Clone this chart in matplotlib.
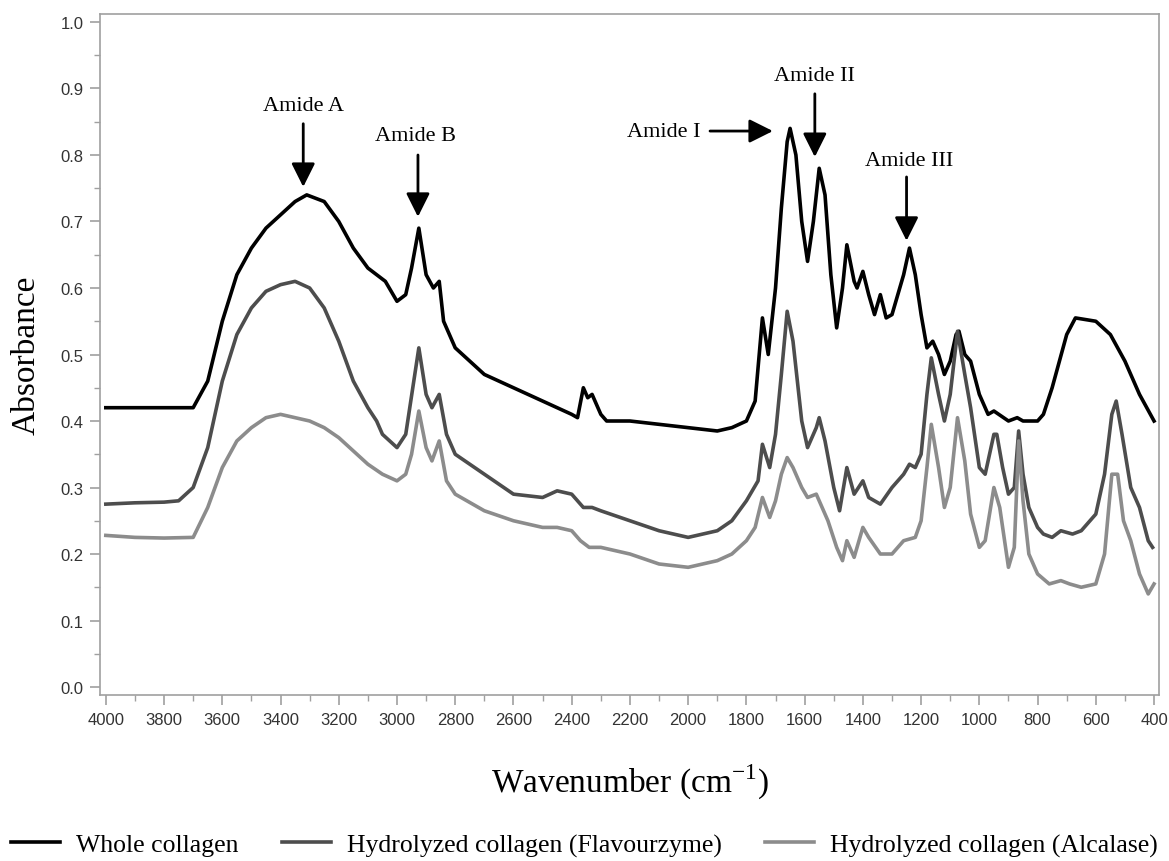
import matplotlib
matplotlib.use("Agg")
import matplotlib.pyplot as plt

# wavenumber (cm-1) and absorbance
wn_whole = [4000, 3900, 3800, 3700, 3650, 3600, 3550, 3500, 3450, 3400, 3350, 3310,
            3250, 3200, 3150, 3100, 3070, 3040, 3000, 2970, 2950, 2925, 2900, 2875,
            2855, 2840, 2800, 2750, 2700, 2600, 2500, 2400, 2380, 2360, 2345, 2330,
            2300, 2280, 2200, 2100, 2000, 1900, 1850, 1800, 1770, 1745, 1725, 1700,
            1680, 1660, 1650, 1630, 1610, 1590, 1570, 1550, 1530, 1510, 1490, 1470,
            1455, 1430, 1420, 1400, 1380, 1360, 1340, 1320, 1300, 1280, 1260, 1240,
            1220, 1200, 1180, 1160, 1140, 1120, 1100, 1080, 1070, 1050, 1030, 1000,
            970, 950, 900, 870, 850, 800, 780, 750, 700, 670, 600, 550, 500, 450, 400]
ab_whole = [0.42, 0.42, 0.42, 0.42, 0.46, 0.55, 0.62, 0.66, 0.69, 0.71, 0.73, 0.74,
            0.73, 0.70, 0.66, 0.63, 0.62, 0.61, 0.58, 0.59, 0.63, 0.69, 0.62, 0.60,
            0.61, 0.55, 0.51, 0.49, 0.47, 0.45, 0.43, 0.41, 0.405, 0.45, 0.435, 0.44,
            0.41, 0.40, 0.40, 0.395, 0.39, 0.385, 0.39, 0.40, 0.43, 0.555, 0.50, 0.60,
            0.72, 0.82, 0.84, 0.80, 0.70, 0.64, 0.70, 0.78, 0.74, 0.62, 0.54, 0.60,
            0.665, 0.61, 0.60, 0.625, 0.59, 0.56, 0.59, 0.555, 0.56, 0.59, 0.62, 0.66,
            0.62, 0.56, 0.51, 0.52, 0.50, 0.47, 0.49, 0.53, 0.535, 0.50, 0.49, 0.44,
            0.41, 0.415, 0.40, 0.405, 0.40, 0.40, 0.41, 0.45, 0.53, 0.555, 0.55, 0.53,
            0.49, 0.44, 0.40]

wn_flav = [4000, 3900, 3800, 3750, 3700, 3650, 3600, 3550, 3500, 3450, 3400, 3350,
           3300, 3250, 3200, 3150, 3100, 3070, 3050, 3000, 2970, 2925, 2900, 2880,
           2855, 2830, 2800, 2700, 2600, 2500, 2450, 2400, 2360, 2330, 2300, 2200,
           2100, 2000, 1900, 1850, 1800, 1760, 1745, 1720, 1700, 1680, 1660, 1640,
           1610, 1590, 1560, 1550, 1530, 1500, 1480, 1455, 1430, 1400, 1380, 1340,
           1300, 1260, 1240, 1220, 1200, 1180, 1165, 1140, 1120, 1100, 1075, 1050,
           1030, 1000, 980, 950, 940, 920, 900, 880, 865, 850, 830, 800, 780, 750,
           720, 680, 650, 600, 570, 545, 530, 510, 480, 450, 420, 405]
ab_flav = [0.275, 0.277, 0.278, 0.28, 0.30, 0.36, 0.46, 0.53, 0.57, 0.595, 0.605, 0.61,
           0.60, 0.57, 0.52, 0.46, 0.42, 0.40, 0.38, 0.36, 0.38, 0.51, 0.44, 0.42,
           0.44, 0.38, 0.35, 0.32, 0.29, 0.285, 0.295, 0.29, 0.27, 0.27, 0.265, 0.25,
           0.235, 0.225, 0.235, 0.25, 0.28, 0.31, 0.365, 0.33, 0.38, 0.47, 0.565, 0.52,
           0.40, 0.36, 0.39, 0.405, 0.37, 0.30, 0.265, 0.33, 0.29, 0.31, 0.285, 0.275,
           0.30, 0.32, 0.335, 0.33, 0.35, 0.44, 0.495, 0.44, 0.40, 0.44, 0.535, 0.47,
           0.42, 0.33, 0.32, 0.38, 0.38, 0.33, 0.29, 0.30, 0.385, 0.32, 0.27, 0.24,
           0.23, 0.225, 0.235, 0.23, 0.235, 0.26, 0.32, 0.41, 0.43, 0.38, 0.30, 0.27,
           0.22, 0.21]

wn_alc = [4000, 3900, 3800, 3700, 3650, 3600, 3550, 3500, 3450, 3400, 3350, 3300,
          3250, 3200, 3150, 3100, 3050, 3000, 2970, 2950, 2925, 2900, 2880, 2855,
          2830, 2800, 2700, 2600, 2500, 2450, 2400, 2370, 2340, 2300, 2200, 2100,
          2000, 1900, 1850, 1800, 1770, 1745, 1720, 1700, 1680, 1660, 1640, 1610,
          1590, 1560, 1550, 1520, 1490, 1470, 1455, 1430, 1400, 1380, 1340, 1300,
          1260, 1220, 1200, 1180, 1165, 1140, 1120, 1100, 1075, 1050, 1030, 1000,
          980, 950, 930, 900, 880, 865, 850, 830, 800, 760, 720, 690, 650, 600,
          570, 545, 525, 505, 480, 450, 420, 400]
ab_alc = [0.228, 0.225, 0.224, 0.225, 0.27, 0.33, 0.37, 0.39, 0.405, 0.41, 0.405, 0.40,
          0.39, 0.375, 0.355, 0.335, 0.32, 0.31, 0.32, 0.35, 0.415, 0.36, 0.34, 0.37,
          0.31, 0.29, 0.265, 0.25, 0.24, 0.24, 0.235, 0.22, 0.21, 0.21, 0.20, 0.185,
          0.18, 0.19, 0.20, 0.22, 0.24, 0.285, 0.255, 0.28, 0.32, 0.345, 0.33, 0.30,
          0.285, 0.29, 0.28, 0.25, 0.21, 0.19, 0.22, 0.195, 0.24, 0.225, 0.20, 0.20,
          0.22, 0.225, 0.25, 0.33, 0.395, 0.33, 0.27, 0.30, 0.405, 0.34, 0.26, 0.21,
          0.22, 0.30, 0.27, 0.18, 0.21, 0.37, 0.28, 0.20, 0.17, 0.155, 0.16, 0.155,
          0.15, 0.155, 0.20, 0.32, 0.32, 0.25, 0.22, 0.17, 0.14, 0.155]

series_names = ["Whole collagen", "Hydrolyzed collagen (Flavourzyme)",
                "Hydrolyzed collagen (Alcalase)"]
series_colors = ["#000000", "#4d4d4d", "#8c8c8c"]

# label, text position, arrow start, arrow tip
annotations = [
    ("Amide A", (3320, 0.874), (3322, 0.847), (3322, 0.752)),
    ("Amide B", (2935, 0.830), (2928, 0.800), (2928, 0.707)),
    ("Amide I", (2085, 0.836), (1925, 0.836), (1709, 0.836)),
    ("Amide II", (1565, 0.919), (1565, 0.892), (1565, 0.797)),
    ("Amide III", (1240, 0.791), (1250, 0.767), (1250, 0.671)),
]

serif = ["Liberation Serif", "DejaVu Serif"]
sans = ["Liberation Sans", "DejaVu Sans"]

fig = plt.figure(figsize=(11.69, 8.62), dpi=100)
ax = fig.add_axes([100 / 1169, 1 - 696 / 862, 1059 / 1169, 681 / 862])

for wn, ab, name, col in zip([wn_whole, wn_flav, wn_alc], [ab_whole, ab_flav, ab_alc],
                             series_names, series_colors):
    ax.plot(wn, ab, color=col, lw=2.6, label=name, solid_joinstyle="round")

for label, txt, start, tip in annotations:
    ax.annotate("", xy=tip, xytext=start,
                arrowprops=dict(arrowstyle="-|>,head_length=0.9,head_width=0.45",
                                lw=2, color="black", mutation_scale=16,
                                shrinkA=0, shrinkB=0))
    ax.text(txt[0], txt[1], label, ha="center", va="center",
            family=serif, fontsize=16)

ax.set_xlim(4020, 383)
ax.set_ylim(-0.012, 1.012)
ax.set_xticks(range(4000, 399, -200))
ax.set_xticks(range(3900, 399, -200), minor=True)
ax.set_yticks([i / 10 for i in range(11)])
ax.set_yticks([i / 10 + 0.05 for i in range(10)], minor=True)
ax.set_yticklabels([f"{i / 10:.1f}" for i in range(11)])

for s in ax.spines.values():
    s.set_color("#a0a0a0")
    s.set_linewidth(1.2)
ax.tick_params(which="major", length=7, width=1.2, color="#a0a0a0",
               labelsize=12, labelcolor="#333333", pad=5)
ax.tick_params(which="minor", length=4, width=1.0, color="#a0a0a0")
for lab in ax.get_xticklabels() + ax.get_yticklabels():
    lab.set_family(sans)

ax.set_xlabel("Wavenumber (cm$^{\\mathregular{-1}}$)", family=serif, fontsize=24)
ax.set_ylabel("Absorbance", family=serif, fontsize=24)
ax.yaxis.set_label_coords(-0.055, 0.5)
ax.xaxis.set_label_coords(0.5, -0.098)

fig.legend(loc="lower center", bbox_to_anchor=(0.5, -0.022), ncol=3, frameon=False,
           prop={"family": serif, "size": 18.5}, handlelength=1.9,
           handletextpad=0.62, columnspacing=1.7)

fig.savefig("out.png", dpi=100)
